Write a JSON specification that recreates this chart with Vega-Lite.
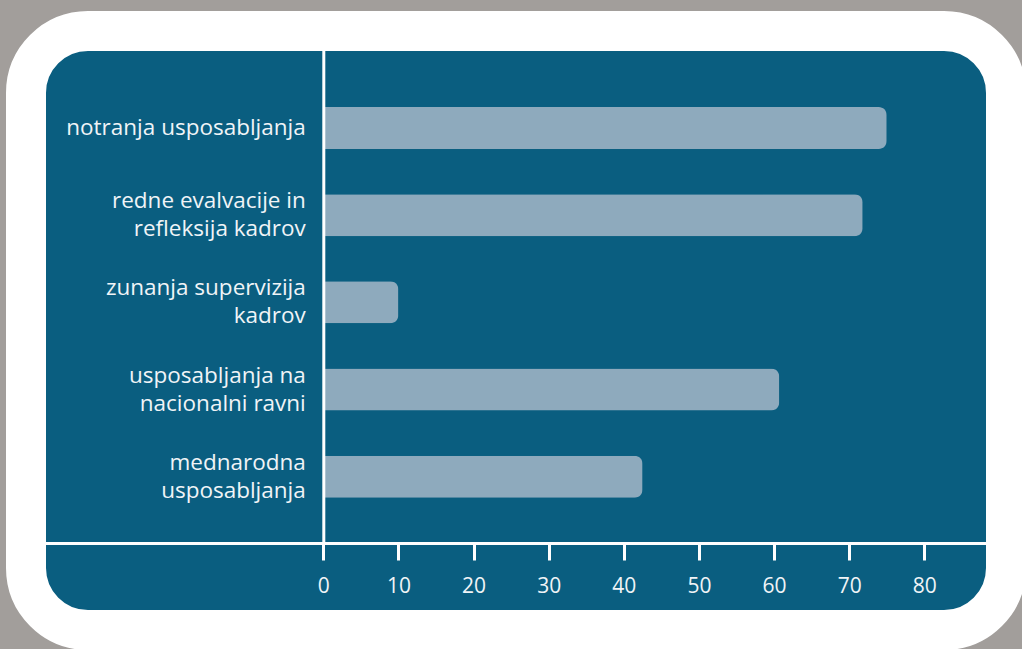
{
  "$schema": "https://vega.github.io/schema/vega-lite/v6.json",
  "autosize": "none",
  "width": 980,
  "height": 599,
  "padding": {"left": 26, "top": 31, "right": 16, "bottom": 19},
  "background": "#a29e9b",
  "config": {
    "view": {"fill": "#0a5e80", "stroke": "#ffffff", "strokeWidth": 40, "cornerRadius": 62},
    "font": "Open Sans"
  },
  "data": {
    "values": [
      {"label": "notranja usposabljanja", "value": 75},
      {"label": "redne evalvacije in|refleksija kadrov", "value": 71.8},
      {"label": "zunanja supervizija|kadrov", "value": 10},
      {"label": "usposabljanja na|nacionalni ravni", "value": 60.7},
      {"label": "mednarodna|usposabljanja", "value": 42.5}
    ]
  },
  "mark": {"type": "bar", "color": "#8eaabd", "cornerRadiusEnd": 8, "height": {"band": 0.5526}},
  "encoding": {
    "y": {
      "field": "label",
      "type": "nominal",
      "sort": null,
      "scale": {"paddingInner": 0.128, "paddingOuter": 1, "align": 0.3385, "round": false},
      "axis": {
        "title": null,
        "orient": "left",
        "offset": -297.3,
        "zindex": 1,
        "ticks": false,
        "domain": true,
        "domainColor": "#ffffff",
        "domainWidth": 3,
        "domainDash": [512, 2000],
        "labelExpr": "split(datum.label, '|')",
        "labelOffset": {"condition": {"test": "indexof(datum.value, '|') >= 0", "value": -14}, "value": 0},
        "labelFont": "Open Sans",
        "labelFontSize": 22.5,
        "labelColor": "#f0f4f7",
        "labelLineHeight": 28,
        "labelPadding": 18,
        "labelLimit": 400
      }
    },
    "x": {
      "field": "value",
      "type": "quantitative",
      "scale": {"domain": [-39.57, 90.88], "nice": false, "zero": false},
      "axis": {
        "title": null,
        "orient": "bottom",
        "offset": -87,
        "zindex": 1,
        "values": [0, 10, 20, 30, 40, 50, 60, 70, 80],
        "grid": false,
        "domainColor": "#ffffff",
        "domainWidth": 3,
        "tickColor": "#ffffff",
        "tickWidth": 3,
        "tickSize": 17,
        "labelFont": "Open Sans",
        "labelFontSize": 21,
        "labelColor": "#f0f4f7",
        "labelPadding": 15
      }
    }
  }
}
